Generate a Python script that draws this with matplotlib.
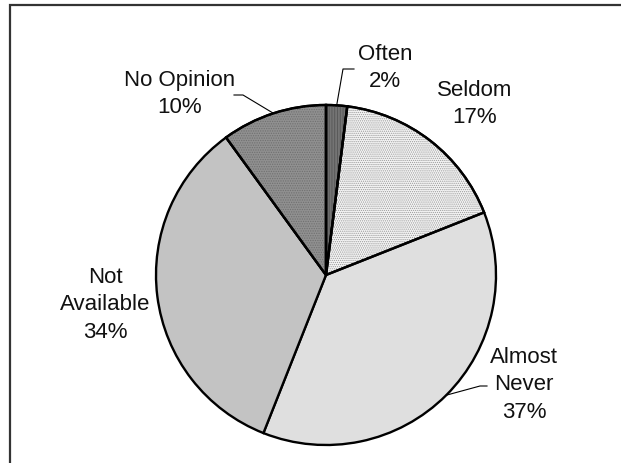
import matplotlib
matplotlib.use("Agg")
import numpy as np
import matplotlib.pyplot as plt
from matplotlib.patches import Rectangle, Wedge

# Survey responses, clockwise from 12 o'clock
categories = ["Often", "Seldom", "Almost\nNever", "Not\nAvailable", "No Opinion"]
shares = [2, 17, 37, 34, 10]

fills = ["#747474", "#f4f4f4", "#dfdfdf", "#c3c3c3", "#909090"]
hatches = ["||||||", "........", "", "", "......."]
hatch_colors = ["#555555", "#9a9a9a", "#dfdfdf", "#c3c3c3", "#707070"]

# label anchor (pixel coordinates, y measured from top) and leader elbows
label_pos = [(385, 68), (475, 104), (524, 385), (105, 305), (180, 94)]
leaders = {0: [(343, 70), (354, 70)],
           2: [(480, 387), (487, 387)],
           4: [(243, 96), (234, 96)]}

W, H = 621, 464
plt.rcParams["font.family"] = ["Liberation Sans", "DejaVu Sans"]
plt.rcParams["hatch.linewidth"] = 0.6

fig = plt.figure(figsize=(W / 100, H / 100), dpi=100)
ax = fig.add_axes([0, 0, 1, 1])

cx, cy, R = 326, H - 276, 170
wedges, _ = ax.pie(shares, startangle=90, counterclock=False,
                   center=(cx, cy), radius=R, colors=fills,
                   wedgeprops=dict(edgecolor="black", linewidth=1.7))

# texture overlays for the patterned slices
for w, h, hc in zip(wedges, hatches, hatch_colors):
    if not h:
        continue
    ov = Wedge((cx, cy), R, w.theta1, w.theta2, facecolor="none",
               edgecolor=hc, hatch=h, linewidth=0, zorder=w.get_zorder() + 0.1)
    ax.add_patch(ov)
    ol = Wedge((cx, cy), R, w.theta1, w.theta2, facecolor="none",
               edgecolor="black", linewidth=1.7, zorder=w.get_zorder() + 0.2)
    ax.add_patch(ol)

for i, (name, share) in enumerate(zip(categories, shares)):
    lx, ly = label_pos[i]
    ax.text(lx, H - ly, f"{name}\n{share}%", ha="center", va="center",
            fontsize=16, linespacing=1.4, color="#111111")
    if i in leaders:
        w = wedges[i]
        mid = np.deg2rad((w.theta1 + w.theta2) / 2)
        pts = [(cx + R * np.cos(mid), cy + R * np.sin(mid))]
        pts += [(x, H - y) for x, y in leaders[i]]
        xs, ys = zip(*pts)
        ax.plot(xs, ys, color="black", linewidth=0.8, zorder=5)

ax.set_xlim(0, W)
ax.set_ylim(0, H)
ax.set_aspect("equal")
ax.axis("off")

# chart-area border (continues past the right and bottom edges)
ax.add_patch(Rectangle((9.5, -40), 700, H - 5.5 + 40, fill=False,
                       edgecolor="#333333", linewidth=1.6, clip_on=False))

fig.savefig("out.png", dpi=100, facecolor="white")
